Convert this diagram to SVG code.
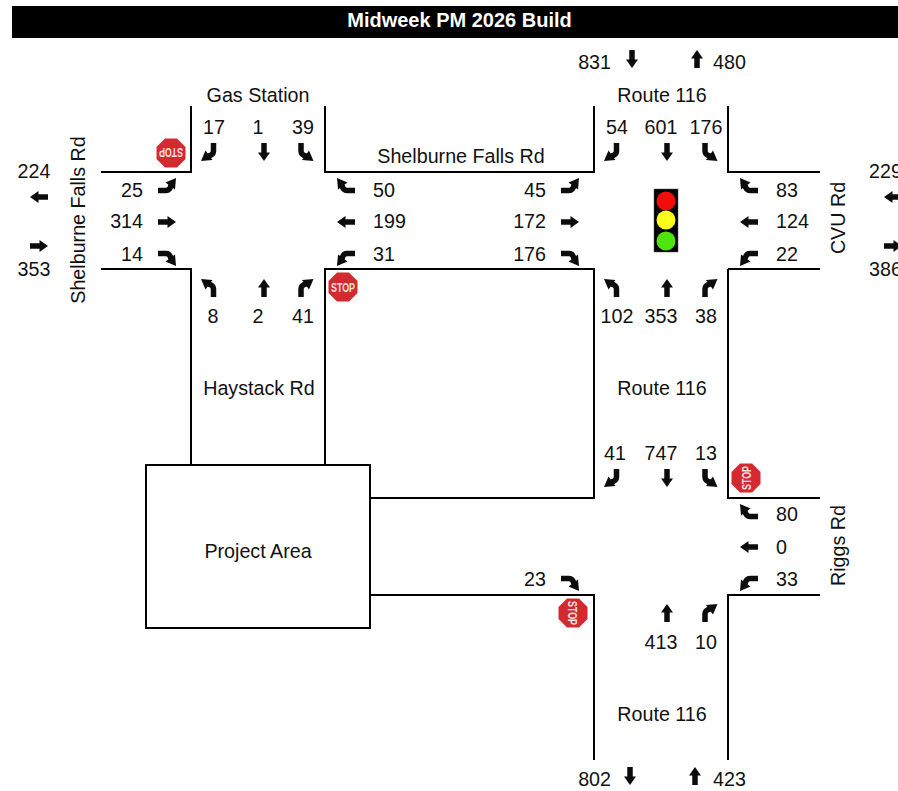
<svg xmlns="http://www.w3.org/2000/svg" width="898" height="791" viewBox="0 0 898 791">
<style>
text{font-family:"Liberation Sans",Arial,sans-serif;font-size:19.7px;fill:#111}
.m{text-anchor:middle}.e{text-anchor:end}
.r{fill:none;stroke:#000;stroke-width:2}
.a{fill:none;stroke:#0c0c0c;stroke-width:5.500}
.h{fill:#0c0c0c}
.s{font-size:13px;font-weight:bold;fill:#f6e0e0;text-anchor:middle}
</style>
<defs>
<g id="st"><path class="a" d="M-9 0H2"/><path class="h" d="M9 0L0.500 -6V6Z"/></g>
<g id="tl"><path class="a" d="M-9 4.500H-1Q3 4.500 4 -1"/><path class="h" d="M9 -8L-1.500 -3.500L8 3.500Z"/></g>
<g id="tr"><path class="a" d="M-9 -4.500H-1Q3 -4.500 4 1"/><path class="h" d="M9 8L-1.500 3.500L8 -3.500Z"/></g>
<g id="stop"><path fill="#d32a30" d="M-6 -14.500H6L14.500 -6V6L6 14.500H-6L-14.500 6V-6Z"/><text class="s" y="4.800" textLength="24" lengthAdjust="spacingAndGlyphs">STOP</text></g>
</defs>
<g id="title"><rect x="12" y="6" width="886" height="32" fill="#000"/><text x="459.500" y="27" class="m" style="font-weight:bold;fill:#fff;font-size:20px">Midweek PM 2026 Build</text></g>
<g id="connectors">
<path class="r" d="M191 106V172H101M325 106V172H594V106M728 106V172H820M101 269H191V465M325 465V269H594V498H370M728 269H820M728 269V498H820M370 595H594V760M728 760V595H820"/>
</g>
<g id="project-area"><rect x="146" y="465" width="224" height="163" fill="#fff" stroke="#000" stroke-width="2"/><text x="258" y="558" class="m">Project Area</text></g>
<g id="road-labels">
<text x="258" y="102" class="m">Gas Station</text>
<text x="461" y="163" class="m">Shelburne Falls Rd</text>
<text x="662" y="102" class="m">Route 116</text>
<text x="259" y="395" class="m">Haystack Rd</text>
<text x="662" y="395" class="m">Route 116</text>
<text x="662" y="721" class="m">Route 116</text>
<text transform="translate(85 220) rotate(-90)" class="m">Shelburne Falls Rd</text>
<text transform="translate(845 218) rotate(-90)" class="m">CVU Rd</text>
<text transform="translate(845 545.500) rotate(-90)" class="m">Riggs Rd</text>
</g>
<g id="node-gas-station">
<text x="214" y="134" class="m">17</text><text x="258" y="134" class="m">1</text><text x="303" y="134" class="m">39</text>
<use href="#tr" transform="translate(209 152) rotate(90)"/><use href="#st" transform="translate(264 152) rotate(90)"/><use href="#tl" transform="translate(305.500 152) rotate(90)"/>
<text x="143" y="197" class="e">25</text><text x="143" y="228" class="e">314</text><text x="143" y="261" class="e">14</text>
<use href="#tl" transform="translate(167 186)"/><use href="#st" transform="translate(167 222)"/><use href="#tr" transform="translate(167 258)"/>
<text x="373" y="197">50</text><text x="373" y="228">199</text><text x="373" y="261">31</text>
<use href="#tr" transform="translate(346 186) rotate(180)"/><use href="#st" transform="translate(346 222) rotate(180)"/><use href="#tl" transform="translate(346 258) rotate(180)"/>
<use href="#tl" transform="translate(209 288) rotate(270)"/><use href="#st" transform="translate(264 288) rotate(270)"/><use href="#tr" transform="translate(305.500 288) rotate(270)"/>
<text x="213" y="323" class="m">8</text><text x="258" y="323" class="m">2</text><text x="303" y="323" class="m">41</text>
<use href="#stop" transform="translate(171 153) rotate(180)"/><use href="#stop" transform="translate(343 287)"/>
</g>
<g id="node-route-116-north">
<text x="617" y="134" class="m">54</text><text x="661" y="134" class="m">601</text><text x="706" y="134" class="m">176</text>
<use href="#tr" transform="translate(612 152) rotate(90)"/><use href="#st" transform="translate(667 152) rotate(90)"/><use href="#tl" transform="translate(709.500 152) rotate(90)"/>
<text x="546" y="197" class="e">45</text><text x="546" y="228" class="e">172</text><text x="546" y="261" class="e">176</text>
<use href="#tl" transform="translate(570 186)"/><use href="#st" transform="translate(570 222)"/><use href="#tr" transform="translate(570 258)"/>
<text x="776" y="197">83</text><text x="776" y="228">124</text><text x="776" y="261">22</text>
<use href="#tr" transform="translate(749 186) rotate(180)"/><use href="#st" transform="translate(749 222) rotate(180)"/><use href="#tl" transform="translate(749 258) rotate(180)"/>
<use href="#tl" transform="translate(612 288) rotate(270)"/><use href="#st" transform="translate(667 288) rotate(270)"/><use href="#tr" transform="translate(709.500 288) rotate(270)"/>
<text x="617" y="323" class="m">102</text><text x="661" y="323" class="m">353</text><text x="706" y="323" class="m">38</text>
<rect x="654" y="189" width="24" height="63" fill="#000" stroke="#555" stroke-width="0.500"/>
<circle cx="666" cy="201" r="9.500" fill="#f10d0c"/><circle cx="666" cy="220" r="9.500" fill="#ffff19"/><circle cx="666" cy="241" r="9.500" fill="#4fe40a"/>
</g>
<g id="node-route-116-south">
<text x="615" y="460" class="m">41</text><text x="661" y="460" class="m">747</text><text x="706" y="460" class="m">13</text>
<use href="#tr" transform="translate(612 478) rotate(90)"/><use href="#st" transform="translate(667 478) rotate(90)"/><use href="#tl" transform="translate(709.500 478) rotate(90)"/>
<text x="776" y="521">80</text><text x="776" y="554">0</text><text x="776" y="586">33</text>
<use href="#tr" transform="translate(749 512) rotate(180)"/><use href="#st" transform="translate(749 547) rotate(180)"/><use href="#tl" transform="translate(749 583) rotate(180)"/>
<text x="546" y="586" class="e">23</text>
<use href="#tr" transform="translate(570 583)"/>
<use href="#st" transform="translate(667 613) rotate(270)"/><use href="#tr" transform="translate(709.500 613) rotate(270)"/>
<text x="661" y="649" class="m">413</text><text x="706" y="649" class="m">10</text>
<use href="#stop" transform="translate(746 478) rotate(-90)"/><use href="#stop" transform="translate(573 613) rotate(90)"/>
</g>
<g id="volumes">
<text x="611" y="69" class="e">831</text><use href="#st" transform="translate(632 59) rotate(90)"/><use href="#st" transform="translate(697 59) rotate(270)"/><text x="713" y="69">480</text>
<text x="34" y="178" class="m">224</text><use href="#st" transform="translate(39 197) rotate(180)"/><use href="#st" transform="translate(39 246)"/><text x="34" y="276" class="m">353</text>
<text x="869" y="178">229</text><use href="#st" transform="translate(893 197) rotate(180)"/><use href="#st" transform="translate(893 246)"/><text x="869" y="276">386</text>
<text x="611" y="786" class="e">802</text><use href="#st" transform="translate(630 776) rotate(90)"/><use href="#st" transform="translate(695 776) rotate(270)"/><text x="713" y="786">423</text>
</g>
</svg>
